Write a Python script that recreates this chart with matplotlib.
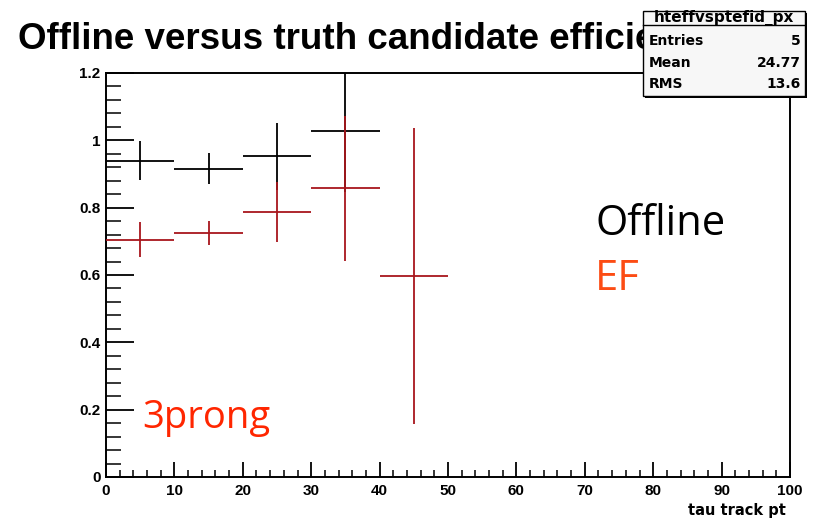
import matplotlib
matplotlib.use("Agg")
import matplotlib.pyplot as plt
from matplotlib.patches import Rectangle
from matplotlib.ticker import MultipleLocator
from matplotlib.lines import Line2D

# efficiency per tau track pt bin (bin width 10)
offline_pt = [5, 15, 25, 35]
offline_eff = [0.940, 0.916, 0.952, 1.028]
offline_err = [0.058, 0.045, 0.100, 0.180]

ef_pt = [5, 15, 25, 35, 45]
ef_eff = [0.705, 0.725, 0.787, 0.857, 0.598]
ef_err = [0.052, 0.036, 0.090, 0.215, 0.440]

bin_half_width = 5

x_ticks = [0, 10, 20, 30, 40, 50, 60, 70, 80, 90, 100]
y_ticks = [0, 0.2, 0.4, 0.6, 0.8, 1.0, 1.2]
y_tick_labels = ["0", "0.2", "0.4", "0.6", "0.8", "1", "1.2"]

title = "Offline versus truth candidate efficiency"
x_label = "tau track pt"
stats_name = "hteffvsptefid_px"
stats_rows = [("Entries", "5"), ("Mean", "24.77"), ("RMS", "13.6")]

W, H = 814, 521
fig = plt.figure(figsize=(W / 100, H / 100), dpi=100)
fig.patch.set_facecolor("white")

ax = fig.add_axes([106 / W, 1 - 477 / H, (790 - 106) / W, (477 - 73) / H])
ax.set_xlim(0, 100)
ax.set_ylim(0, 1.2)

ax.errorbar(offline_pt, offline_eff, yerr=offline_err, xerr=bin_half_width,
            fmt="none", ecolor="black", elinewidth=1.3, capsize=0, zorder=3)
ax.errorbar(ef_pt, ef_eff, yerr=ef_err, xerr=bin_half_width,
            fmt="none", ecolor="#a8161c", elinewidth=1.3, capsize=0, zorder=4)

tick_font = dict(family="Liberation Sans", weight="bold", size=11)
ax.set_xticks(x_ticks)
ax.set_xticklabels([str(v) for v in x_ticks], **tick_font)
ax.set_yticks(y_ticks)
ax.set_yticklabels(y_tick_labels, **tick_font)
ax.xaxis.set_minor_locator(MultipleLocator(2))
ax.yaxis.set_minor_locator(MultipleLocator(0.04))
ax.tick_params(axis="x", which="major", direction="in", length=11, width=1.3,
               pad=5, top=False)
ax.tick_params(axis="x", which="minor", direction="in", length=5, width=1.1, top=False)
ax.tick_params(axis="y", which="major", direction="in", length=20, width=1.3,
               pad=4, right=False)
ax.tick_params(axis="y", which="minor", direction="in", length=11, width=1.1, right=False)
for s in ax.spines.values():
    s.set_linewidth(1.4)

fig.text(786 / W, 1 - 510 / H, x_label, ha="right", va="center",
         family="DejaVu Sans", weight="bold", size=10.5)

# histogram title, partly hidden behind the statistics box
fig.text(18 / W, 1 - 49 / H, title, ha="left", va="baseline",
         family="Liberation Sans", weight="bold", size=26.5, zorder=1)

# statistics box with drop shadow
bx0, bx1 = 643 / W, 805 / W
by0, by1 = 1 - 96 / H, 1 - 11 / H
fig.patches.append(Rectangle((bx0 + 2 / W, by0 - 2 / H), bx1 - bx0, by1 - by0,
                             transform=fig.transFigure, facecolor="black",
                             edgecolor="none", zorder=5))
fig.patches.append(Rectangle((bx0, by0), bx1 - bx0, by1 - by0,
                             transform=fig.transFigure, facecolor="#f7f7f7",
                             edgecolor="black", linewidth=1.0, zorder=6))
fig.lines.append(Line2D([bx0, bx1], [1 - 25 / H, 1 - 25 / H],
                        transform=fig.transFigure, color="black",
                        linewidth=1.0, zorder=7))
stats_font = dict(family="DejaVu Sans", weight="bold", size=10, zorder=8)
fig.text((bx0 + bx1) / 2, 1 - 18 / H, stats_name, ha="center", va="center",
         family="DejaVu Sans", weight="bold", size=11, zorder=8)
row_y = [41, 63, 84]
for (name, val), yy in zip(stats_rows, row_y):
    fig.text(649 / W, 1 - yy / H, name, ha="left", va="center", **stats_font)
    fig.text(801 / W, 1 - yy / H, val, ha="right", va="center", **stats_font)

# overlay annotations
fig.text(595 / W, 1 - 235 / H, "Offline", ha="left", va="baseline",
         family="Open Sans", size=30, color="black", zorder=9)
fig.text(595 / W, 1 - 290 / H, "EF", ha="left", va="baseline",
         family="Open Sans", size=30, color="#fc4c14", zorder=9)
fig.text(142 / W, 1 - 428 / H, "3prong", ha="left", va="baseline",
         family="Open Sans", size=27.5, color="#ff2600", zorder=9)

fig.savefig("out.png", dpi=100)
